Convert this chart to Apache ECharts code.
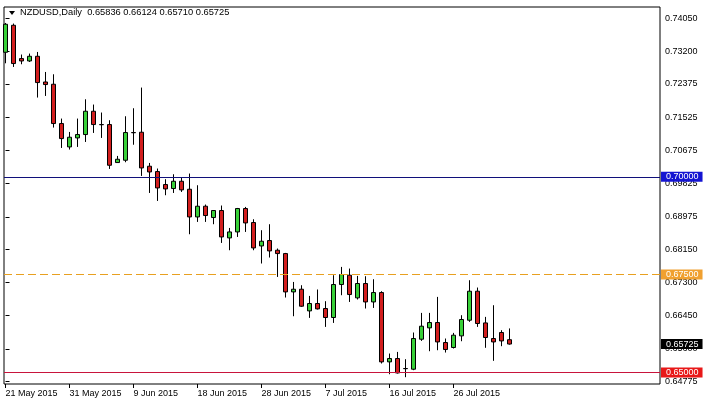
<!DOCTYPE html>
<html><head><meta charset="utf-8">
<script src="https://cdn.jsdelivr.net/npm/echarts@6/dist/echarts.min.js"></script>
<style>html,body{margin:0;padding:0;background:#fff}#c{width:704px;height:405px}</style>
</head><body><div id="c"></div>
<script>
const symbolName = 'NZDUSD';
const timeframe = 'Daily';
const dates = [
 '2015-05-21','2015-05-22','2015-05-24','2015-05-25','2015-05-26','2015-05-27','2015-05-28','2015-05-29',
 '2015-05-31','2015-06-01','2015-06-02','2015-06-03','2015-06-04','2015-06-05','2015-06-07','2015-06-08',
 '2015-06-09','2015-06-10','2015-06-11','2015-06-12','2015-06-14','2015-06-15','2015-06-16','2015-06-17',
 '2015-06-18','2015-06-19','2015-06-21','2015-06-22','2015-06-23','2015-06-24','2015-06-25','2015-06-26',
 '2015-06-28','2015-06-29','2015-06-30','2015-07-01','2015-07-02','2015-07-03','2015-07-05','2015-07-06',
 '2015-07-07','2015-07-08','2015-07-09','2015-07-10','2015-07-12','2015-07-13','2015-07-14','2015-07-15',
 '2015-07-16','2015-07-17','2015-07-19','2015-07-20','2015-07-21','2015-07-22','2015-07-23','2015-07-24',
 '2015-07-26','2015-07-27','2015-07-28','2015-07-29','2015-07-30','2015-07-31','2015-08-02','2015-08-03'
];
const opens = [
 0.73181,0.73871,0.73020,0.72959,0.73079,0.72422,0.72364,0.71360,
 0.70762,0.70992,0.71079,0.71674,0.71334,0.71334,0.70363,0.70422,
 0.71130,0.71138,0.70269,0.70133,0.69801,0.69699,0.69885,0.69681,
 0.68973,0.69247,0.68958,0.69137,0.68437,0.68590,0.69188,0.68830,
 0.68232,0.68370,0.68122,0.68037,0.67057,0.67126,0.66572,0.66761,
 0.66633,0.66403,0.67246,0.67484,0.66905,0.67272,0.66801,0.67041,
 0.65269,0.65355,0.65100,0.65082,0.65848,0.66138,0.66275,0.65764,
 0.65637,0.65934,0.66334,0.67075,0.66265,0.65866,0.66020,0.65836
];
const highs = [
 0.73930,0.73915,0.73123,0.73148,0.73189,0.72678,0.72619,0.71487,
 0.71145,0.71487,0.71980,0.71845,0.71641,0.71444,0.70532,0.71546,
 0.71751,0.72279,0.70353,0.70210,0.69937,0.70064,0.69980,0.70082,
 0.69783,0.69290,0.69150,0.69265,0.68692,0.69203,0.69229,0.68914,
 0.68634,0.68787,0.68166,0.68054,0.67312,0.67228,0.66955,0.67119,
 0.66820,0.67484,0.67696,0.67654,0.67466,0.67458,0.67381,0.67075,
 0.65483,0.65524,0.65338,0.66020,0.66521,0.66521,0.66930,0.65866,
 0.66010,0.66462,0.67356,0.67169,0.66419,0.66717,0.66079,0.66124
];
const lows = [
 0.72900,0.72806,0.72875,0.72933,0.72024,0.72065,0.71257,0.70736,
 0.70695,0.70762,0.70889,0.71120,0.70992,0.70200,0.70360,0.70371,
 0.70818,0.70021,0.69586,0.69382,0.69528,0.69586,0.69612,0.68531,
 0.68846,0.68846,0.68787,0.68309,0.68122,0.68462,0.68590,0.68122,
 0.67783,0.67936,0.67440,0.66914,0.66436,0.66674,0.66393,0.66607,
 0.66163,0.66265,0.66973,0.66801,0.66863,0.66633,0.66648,0.65228,
 0.64954,0.64972,0.64878,0.65057,0.65805,0.65542,0.65567,0.65508,
 0.65611,0.65797,0.66292,0.66163,0.65629,0.65296,0.65670,0.65710
];
const closes = [
 0.73897,0.72893,0.72959,0.73079,0.72407,0.72356,0.71360,0.70976,
 0.71010,0.71079,0.71674,0.71334,0.71330,0.70294,0.70447,0.71130,
 0.71125,0.70225,0.70123,0.69714,0.69689,0.69885,0.69664,0.68973,
 0.69247,0.69009,0.69137,0.68462,0.68590,0.69188,0.68820,0.68181,
 0.68352,0.68105,0.68037,0.67057,0.67126,0.66692,0.66761,0.66623,
 0.66403,0.67246,0.67501,0.66990,0.67272,0.66801,0.67041,0.65269,
 0.65355,0.64987,0.65095,0.65866,0.66181,0.66275,0.65779,0.65585,
 0.65951,0.66352,0.67075,0.66250,0.65892,0.65779,0.65805,0.65725
];
const priceTicks = [0.74050,0.73200,0.72375,0.71525,0.70675,0.69825,0.68975,0.68150,0.67300,0.66450,0.65600,0.64775];
const dateTickIdx = [0,8,16,24,32,40,48,56];
const levelBlue = 0.70000, levelOrange = 0.67500, levelRed = 0.65000;
const monthNames = ['Jan','Feb','Mar','Apr','May','Jun','Jul','Aug','Sep','Oct','Nov','Dec'];

function fmtDate(s){ const p=s.split('-'); return (+p[2])+' '+monthNames[+p[1]-1]+' '+p[0]; }
const n = closes.length;
const candleData = dates.map((d,i)=>[i, opens[i], closes[i], lows[i], highs[i]]);
const last = n-1;
const headerText = symbolName+','+timeframe+'  '+[opens[last],highs[last],lows[last],closes[last]].map(v=>v.toFixed(5)).join(' ');

const FONT = 'Liberation Sans';
const chart = echarts.init(document.getElementById('c'), null, {renderer:'canvas'});
function lvl(value, lineColor, bg, fg, type){
  return {
    yAxis: value,
    lineStyle: {color: lineColor, width: 1, type: type||'solid'},
    label: {show:true, position:'end', distance:1, formatter: ()=>value.toFixed(5),
      color: fg, backgroundColor: bg, padding:[1,4,0,5], fontSize:9, fontFamily:FONT, lineHeight:9}
  };
}
chart.setOption({
  animation:false,
  backgroundColor:'#ffffff',
  title:{text: headerText, left:20, top:8, padding:0,
    textStyle:{fontSize:9.3, fontWeight:'normal', color:'#000', fontFamily:FONT}},
  graphic:[{type:'polygon', shape:{points:[[9,11],[15,11],[12,15]]}, style:{fill:'#000'}, silent:true}],
  grid:{left:4, right:44, top:7, bottom:21, show:true, borderColor:'#000', borderWidth:1, backgroundColor:'#fff'},
  xAxis:{type:'value', min:-0.1875, max:-0.1875+656/8,
    axisLine:{show:false}, splitLine:{show:false},
    axisTick:{show:true, length:4, customValues:dateTickIdx, lineStyle:{color:'#000'}},
    axisLabel:{show:true, customValues:dateTickIdx, align:'left', margin:5, fontSize:9, fontFamily:FONT, color:'#000',
      formatter:(v)=>fmtDate(dates[Math.round(v)])}},
  yAxis:{type:'value', position:'right', min:0.64704, max:0.74338, scale:true,
    axisLine:{show:false}, splitLine:{show:false},
    axisTick:{show:true, length:4, customValues:priceTicks, lineStyle:{color:'#000'}},
    axisLabel:{show:true, customValues:priceTicks, margin:5, fontSize:9, fontFamily:FONT, color:'#000',
      formatter:(v)=>v.toFixed(5)}},
  series:[{
    type:'candlestick',
    data:candleData,
    barWidth:5,
    itemStyle:{color:'#38d038', color0:'#d21e1e', borderColor:'#000', borderColor0:'#000', borderColorDoji:'#000', borderWidth:1},
    markLine:{silent:true, symbol:['none','none'], animation:false, precision:5,
      data:[
        lvl(levelBlue,'#10107a','#1414d2','#ffffff'),
        lvl(levelOrange,'#e8a020','#f0a030','#ffffff',[8,4]),
        lvl(closes[last],'rgba(0,0,0,0)','#000000','#ffffff'),
        lvl(levelRed,'#c8143c','#e81818','#ffffff')
      ]}
  }]
});
</script></body></html>
